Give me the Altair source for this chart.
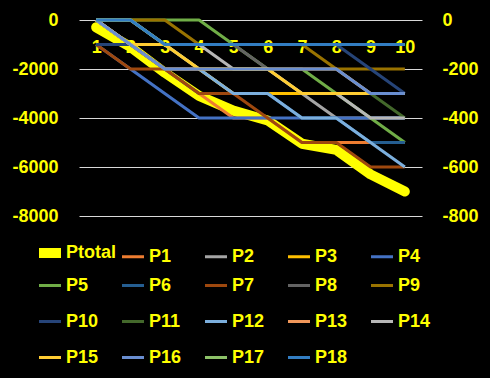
import altair as alt
import pandas as pd

categories = [1, 2, 3, 4, 5, 6, 7, 8, 9, 10]

ptotal = [-300, -1100, -2150, -3100, -3700, -4100, -5050, -5300, -6300, -7000]

p1 = [0, -100, -200, -300, -400, -400, -500, -500, -500, -500]
p2 = [0, -100, -200, -200, -300, -300, -300, -400, -400, -400]
p3 = [0, 0, -100, -200, -300, -300, -300, -300, -300, -300]
p4 = [-100, -200, -300, -400, -400, -400, -400, -400, -400, -400]
p5 = [0, 0, 0, 0, -100, -200, -200, -300, -400, -500]
p6 = [0, -100, -200, -300, -300, -300, -400, -400, -500, -500]
p7 = [-100, -200, -200, -300, -300, -400, -500, -500, -600, -600]
p8 = [0, 0, -100, -100, -100, -200, -300, -300, -300, -300]
p9 = [0, 0, 0, -100, -100, -100, -100, -200, -200, -200]
p10 = [-100, -100, -100, -100, -100, -100, -100, -100, -200, -300]
p11 = [0, -100, -200, -200, -200, -200, -200, -200, -300, -400]
p12 = [0, 0, -100, -200, -300, -300, -400, -400, -500, -600]
p13 = [0, -100, -200, -200, -200, -200, -200, -200, -300, -300]
p14 = [0, -100, -100, -100, -200, -200, -300, -300, -400, -400]
p15 = [0, -100, -100, -200, -200, -200, -300, -300, -300, -300]
p16 = [0, -100, -200, -200, -200, -200, -200, -200, -300, -300]
p17 = [0, 0, -100, -100, -100, -100, -100, -100, -100, -100]
p18 = [0, 0, -100, -100, -100, -100, -100, -100, -100, -100]

series_names = ["P%d" % i for i in range(1, 19)]
series_values = [p1, p2, p3, p4, p5, p6, p7, p8, p9, p10,
                 p11, p12, p13, p14, p15, p16, p17, p18]

legend_names = ["Ptotal"] + series_names
legend_colors = ["#FFFF00", "#ED7D31", "#A5A5A5", "#FFC000", "#4472C4", "#70AD47",
                 "#255E91", "#9E480E", "#636363", "#997300", "#264478", "#43682B",
                 "#7CAFDD", "#F1975A", "#B7B7B7", "#FFCD33", "#698ED0", "#8CC168",
                 "#327DC2"]
legend_widths = [10] + [3] * 18

YELLOW = "#FFFF00"
FONT = "Liberation Sans"

df_total = pd.DataFrame({"cat": categories, "value": ptotal, "series": "Ptotal"})
rows = []
for name, vals in zip(series_names, series_values):
    for c, v in zip(categories, vals):
        rows.append({"cat": c, "value": v, "series": name})
df_p = pd.DataFrame(rows)

color_scale = alt.Scale(domain=legend_names, range=legend_colors)
width_scale = alt.Scale(type="ordinal", domain=legend_names, range=legend_widths)

legend = alt.Legend(
    orient="none", legendX=-45, legendY=217, columns=5, direction="horizontal",
    title=None, symbolType="stroke", symbolSize=484, gridAlign="all",
    columnPadding=-6, rowPadding=0, labelOffset=0, padding=0,
    labelFont=FONT, labelFontSize=18, labelFontWeight="bold",
    labelColor=YELLOW, labelLimit=200,
)

x_enc = alt.X(
    "cat:O",
    scale=alt.Scale(type="point", padding=0.5),
    axis=alt.Axis(orient="bottom", offset=-178, domain=False, ticks=False,
                  labelPadding=0, labelBaseline="top", labelAngle=0,
                  labelFont=FONT, labelFontSize=18, labelFontWeight="bold",
                  labelColor=YELLOW, grid=False),
    title=None,
)

total_layer = alt.Chart(df_total).mark_line(strokeCap="round", strokeJoin="round").encode(
    x=x_enc,
    y=alt.Y("value:Q", scale=alt.Scale(domain=[-8000, 0], nice=False),
            axis=alt.Axis(orient="left", values=[0, -2000, -4000, -6000, -8000],
                          grid=True, gridColor="#D9D9D9", gridWidth=1,
                          domain=False, ticks=False, labelPadding=21,
                          labelFont=FONT, labelFontSize=18, labelFontWeight="bold",
                          labelColor=YELLOW, labelExpr="datum.value + ''"),
            title=None),
    color=alt.Color("series:N", scale=color_scale, legend=legend),
    strokeWidth=alt.StrokeWidth("series:N", scale=width_scale, legend=legend),
)

p_layers = []
for name in series_names:
    p_layers.append(
        alt.Chart(df_p).transform_filter(alt.datum.series == name)
        .mark_line(strokeJoin="round")
        .encode(
            x=x_enc,
            y=alt.Y("value:Q", scale=alt.Scale(domain=[-800, 0], nice=False),
                    axis=alt.Axis(orient="right", values=[0, -200, -400, -600, -800],
                                  grid=False, domain=False, ticks=False, labelPadding=20,
                                  labelFont=FONT, labelFontSize=18, labelFontWeight="bold",
                                  labelColor=YELLOW, labelExpr="datum.value + ''"),
                    title=None),
            color=alt.Color("series:N", scale=color_scale, legend=legend),
            strokeWidth=alt.StrokeWidth("series:N", scale=width_scale, legend=legend),
        )
    )

p_chart = alt.layer(*p_layers)

chart = alt.layer(total_layer, p_chart).resolve_scale(y="independent").properties(
    width=343, height=196,
    background="black",
    padding={"left": 79, "top": 20, "right": 68, "bottom": 162},
    autosize=alt.AutoSizeParams(type="none"),
).configure_view(stroke=None)

chart.save("out.html", embed_options={"renderer": "svg", "actions": False})
